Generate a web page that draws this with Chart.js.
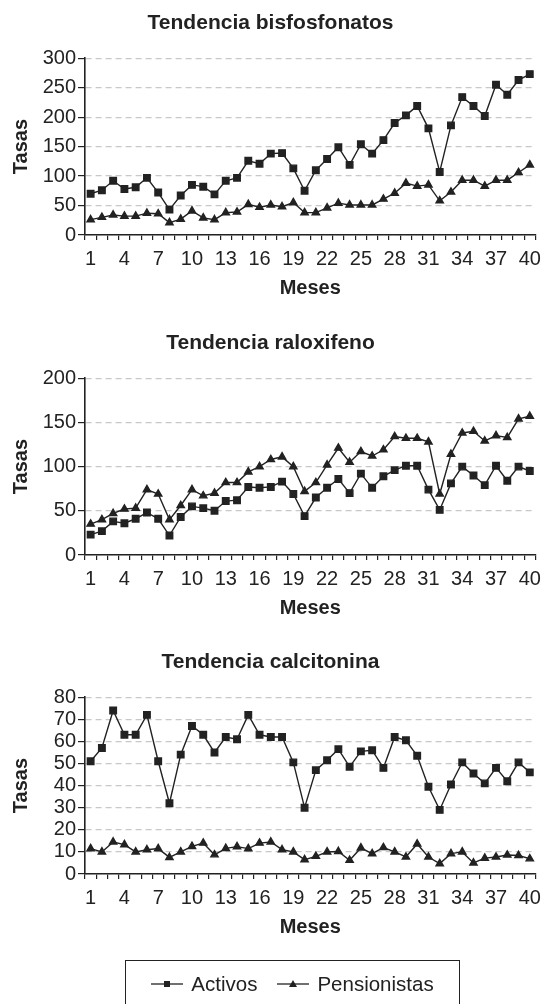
<!DOCTYPE html>
<html>
<head>
<meta charset="utf-8">
<script src="https://cdn.jsdelivr.net/npm/chart.js@4/dist/chart.umd.min.js"></script>
<style>
  body { margin: 0; background: #fff; width: 548px; height: 1004px; position: relative; overflow: hidden; font-family: 'Liberation Sans', Arial, sans-serif; }
  .panel { position: absolute; left: 0; width: 548px; height: 320px; }
  #legend { position: absolute; left: 125px; top: 960px; width: 335px; height: 60px; border: 1.5px solid #222; box-sizing: border-box;
    display: flex; justify-content: center; align-items: flex-start; padding-top: 11px; color: #222; font-size: 20.5px; }
  .item { display: flex; align-items: center; margin: 0 10px; }
  .item svg { margin-right: 8px; }
</style>
</head>
<body>
<div class="panel" style="top:0px"><canvas id="c1" width="548" height="320"></canvas></div>
<div class="panel" style="top:320px"><canvas id="c2" width="548" height="320"></canvas></div>
<div class="panel" style="top:639px"><canvas id="c3" width="548" height="320"></canvas></div>
<div id="legend">
  <span class="item"><svg width="32" height="10"><line x1="0" y1="5" x2="32" y2="5" stroke="#222" stroke-width="1.3"/><rect x="13" y="2" width="6" height="6" fill="#222"/></svg>Activos</span>
  <span class="item"><svg width="32" height="10"><line x1="0" y1="5" x2="32" y2="5" stroke="#222" stroke-width="1.3"/><polygon points="16,1 20,8 12,8" fill="#222"/></svg>Pensionistas</span>
</div>
<script>
// months 1..40
const months = Array.from({ length: 40 }, (_, i) => String(i + 1));

const bisActivos = [70, 76, 92, 78, 81, 97, 72, 43, 67, 85, 82, 69, 92, 97, 126, 121, 138, 139, 113, 75,
  110, 129, 149, 119, 154, 138, 161, 190, 203, 219, 181, 107, 186, 234, 219, 202, 255, 238, 263, 273];
const bisPensionistas = [26, 30, 34, 32, 32, 37, 36, 21, 27, 41, 29, 26, 38, 39, 52, 47, 51, 48, 55, 38,
  38, 46, 54, 51, 51, 51, 61, 71, 88, 83, 85, 58, 73, 93, 93, 83, 93, 93, 106, 119];

const raloActivos = [23, 27, 38, 36, 41, 48, 41, 22, 43, 55, 53, 50, 61, 62, 77, 76, 77, 83, 69, 44,
  65, 76, 86, 70, 92, 76, 89, 96, 101, 101, 74, 51, 81, 100, 90, 79, 101, 84, 100, 95];
const raloPensionistas = [35, 40, 47, 52, 53, 74, 69, 40, 56, 74, 67, 70, 82, 82, 94, 100, 108, 111, 100, 72,
  82, 102, 121, 105, 117, 112, 119, 134, 132, 132, 128, 69, 114, 138, 140, 129, 135, 133, 154, 157];

const calActivos = [51, 57, 74, 63, 63, 72, 51, 32, 54, 67, 63, 55, 62, 61, 72, 63, 62, 62, 50.5, 30,
  47, 51.5, 56.5, 48.5, 55.5, 56, 48, 62, 60.5, 53.5, 39.5, 29, 40.5, 50.5, 45.5, 41, 48, 42, 50.5, 46];
const calPensionistas = [11.5, 10, 14.5, 13.3, 10, 11, 11.5, 7.5, 10, 12.5, 14, 8.7, 11.6, 12.4, 11.5, 14, 14.5, 11, 10, 6.5,
  8, 10, 10.2, 6.2, 11.8, 9.2, 12, 10, 7.7, 13.6, 7.7, 4.7, 9.2, 10, 5, 7.2, 7.7, 8.6, 8.4, 6.9];

Chart.defaults.font.family = "'Liberation Sans', Arial, sans-serif";
Chart.defaults.color = '#222';

const ink = '#222';

const makeChart = (id, title, activos, pensionistas, yMax, yStep) => {
  const ctx = document.getElementById(id).getContext('2d');
  return new Chart(ctx, {
    type: 'line',
    data: {
      labels: months,
      datasets: [{
        label: 'Activos',
        data: activos,
        borderColor: ink,
        backgroundColor: ink,
        borderWidth: 1.4,
        pointStyle: 'rect',
        pointRadius: 4.6,
        tension: 0
      }, {
        label: 'Pensionistas',
        data: pensionistas,
        borderColor: ink,
        backgroundColor: ink,
        borderWidth: 1.4,
        pointStyle: 'triangle',
        pointRadius: 4.2,
        tension: 0
      }]
    },
    options: {
      responsive: false,
      animation: false,
      layout: { padding: { top: 0, left: 0, right: 7, bottom: 0 } },
      plugins: {
        legend: { display: false },
        tooltip: { enabled: false },
        title: {
          display: true,
          text: title,
          color: ink,
          font: { size: 21, weight: 'bold' },
          padding: { top: 11, bottom: 22 }
        }
      },
      scales: {
        x: {
          type: 'category',
          offset: true,
          grid: { drawOnChartArea: false, offset: true, tickLength: 5, tickColor: ink, lineWidth: 1.2 },
          border: { color: ink, width: 1.6 },
          ticks: {
            autoSkip: false,
            maxRotation: 0,
            padding: 7,
            font: { size: 20 },
            color: ink,
            callback: (v, i) => (i % 3 === 0 ? months[i] : '')
          },
          title: { display: true, text: 'Meses', color: ink, font: { size: 20, weight: 'bold' }, padding: { top: 0, bottom: 20 } },
          afterFit: s => { s.height = 85; }
        },
        y: {
          min: 0,
          max: yMax,
          grid: { color: '#c8c8c8', lineWidth: 1.2, tickColor: ink, tickLength: 7, tickBorderDash: [], tickWidth: 1.2 },
          border: { color: ink, width: 1.6, dash: [6, 4] },
          ticks: { stepSize: yStep, autoSkip: false, padding: 2, font: { size: 20 }, color: ink },
          title: { display: true, text: 'Tasas', color: ink, font: { size: 20, weight: 'bold' }, padding: { top: 9, bottom: 0 } },
          afterFit: s => { s.width = 85; }
        }
      }
    }
  });
};

makeChart('c1', 'Tendencia bisfosfonatos', bisActivos, bisPensionistas, 300, 50);
makeChart('c2', 'Tendencia raloxifeno', raloActivos, raloPensionistas, 200, 50);
makeChart('c3', 'Tendencia calcitonina', calActivos, calPensionistas, 80, 10);
</script>
</body>
</html>
